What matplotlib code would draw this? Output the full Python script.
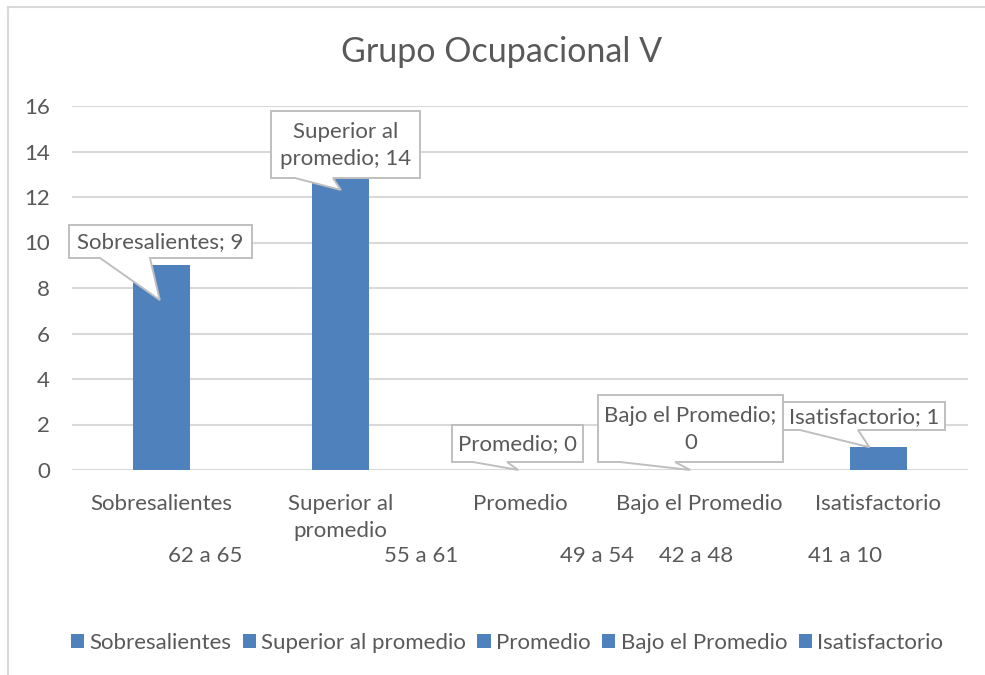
import matplotlib.pyplot as plt
from matplotlib.patches import Patch, Polygon
from matplotlib.lines import Line2D

plt.rcParams['font.family'] = ['Lato', 'DejaVu Sans']

categories = ['Sobresalientes', 'Superior al\npromedio', 'Promedio', 'Bajo el Promedio', 'Isatisfactorio']
legend_names = ['Sobresalientes', 'Superior al promedio', 'Promedio', 'Bajo el Promedio', 'Isatisfactorio']
values = [9, 14, 0, 0, 1]
callout_texts = ['Sobresalientes; 9', 'Superior al\npromedio; 14', 'Promedio; 0',
                 'Bajo el Promedio;\n0', 'Isatisfactorio; 1']
score_ranges = ['62 a 65', '55 a 61', '49 a 54', '42 a 48', '41 a 10']

blue = '#4F81BD'
gray_txt = '#595959'
grid_c = '#D9D9D9'
box_c = '#BFBFBF'

W, H = 985, 675
AX_L, AX_R, AX_T, AX_B = 72, 968, 106, 470

fig = plt.figure(figsize=(W / 100, H / 100), dpi=100)
ax = fig.add_axes([AX_L / W, 1 - AX_B / H, (AX_R - AX_L) / W, (AX_B - AX_T) / H])

x = list(range(len(values)))
ax.bar(x, values, width=0.32, color=blue, zorder=2)
ax.set_xlim(-0.5, 4.5)
ax.set_ylim(0, 16)
ax.set_yticks(range(0, 17, 2))
ax.yaxis.grid(True, color=grid_c, linewidth=1.5, zorder=0)
ax.set_axisbelow(True)
for s in ax.spines.values():
    s.set_visible(False)
ax.tick_params(axis='both', length=0, labelsize=16, labelcolor=gray_txt)
ax.tick_params(axis='y', pad=16)
ax.set_xticks(x)
ax.set_xticklabels(categories, va='top', linespacing=1.45)
ax.tick_params(axis='x', pad=17)


def px2d(px, py):
    # pixel position in the figure -> data coordinates of the axes
    xd = (px - AX_L) / (AX_R - AX_L) * 5 - 0.5
    yd = (AX_B - py) / (AX_B - AX_T) * 16
    return xd, yd


# callout boxes in pixels: left, right, top, bottom, wedge base x1, x2
boxes = [(69, 252, 225, 258, 100, 150),
         (271, 420, 111, 178, 295, 333),
         (452, 583, 425, 462, 473, 507),
         (598, 783, 395, 462, 620, 675),
         (783, 945, 402, 430, 800, 858)]
# pointer tip offset from the bar top (data units)
tip_dx = [-0.01, 0.0, -0.01, -0.05, -0.05]
tip_dy = [-1.53, -1.69, 0.0, 0.0, 0.0]

for i, txt in enumerate(callout_texts):
    l, r, t, b, b1, b2 = boxes[i]
    tx, ty = x[i] + tip_dx[i], values[i] + tip_dy[i]
    pts = [px2d(l, b), px2d(b1, b), (tx, ty), px2d(b2, b), px2d(r, b), px2d(r, t), px2d(l, t)]
    ax.add_patch(Polygon(pts, closed=True, fc='white', ec=box_c, lw=1.4,
                         zorder=5, clip_on=False, joinstyle='miter'))
    cx, cy = px2d((l + r) / 2, (t + b) / 2 + 1)
    ax.text(cx, cy, txt, ha='center', va='center', fontsize=16, color=gray_txt,
            linespacing=1.4, zorder=6)

range_x = [205, 421, 597, 696, 845]
for rx, lab in zip(range_x, score_ranges):
    fig.text(rx / W, 1 - 556 / H, lab, ha='center', va='center',
             fontsize=16, color=gray_txt)

fig.text(502 / W, 1 - 52 / H, 'Grupo Ocupacional V', ha='center', va='center',
         fontsize=24.5, color=gray_txt)

handles = [Patch(facecolor=blue, edgecolor='none') for _ in legend_names]
fig.legend(handles, legend_names, loc='center', bbox_to_anchor=(507 / W, 1 - 643 / H),
           ncol=5, frameon=False, fontsize=16, labelcolor=gray_txt,
           handlelength=0.6, handleheight=0.6, handletextpad=0.25, columnspacing=0.5)

# outer chart frame (left and top edges)
fig.add_artist(Line2D([8 / W, 8 / W], [0, 1 - 7 / H], color=grid_c, lw=1.5))
fig.add_artist(Line2D([8 / W, 1], [1 - 7 / H, 1 - 7 / H], color=grid_c, lw=1.5))

fig.savefig('out.png', dpi=100, facecolor='white')
